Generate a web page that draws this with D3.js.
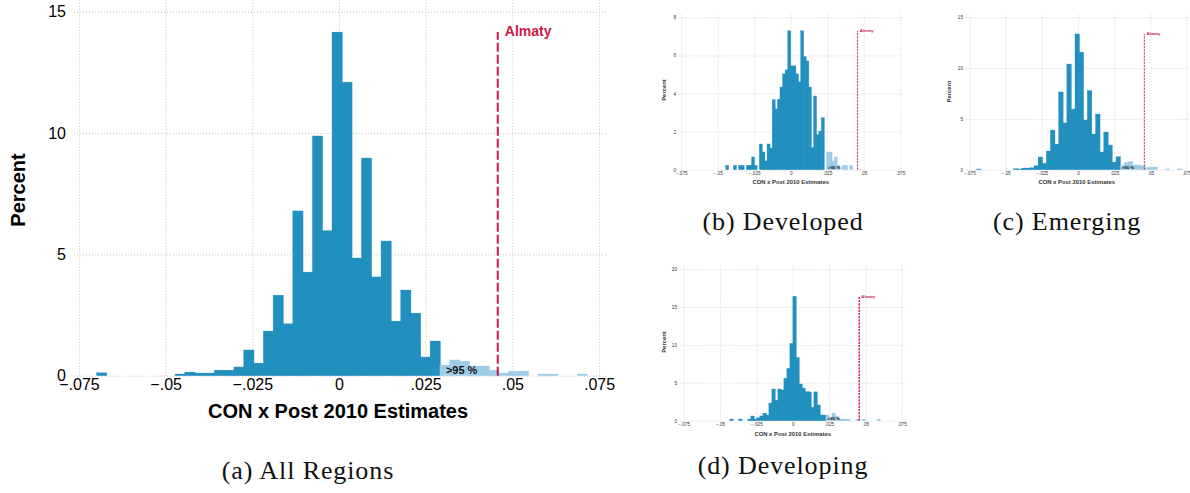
<!DOCTYPE html>
<html>
<head>
<meta charset="utf-8">
<script src="https://cdn.jsdelivr.net/npm/d3@7"></script>
<style>
  body { margin: 0; background: #fff; }
  svg { display: block; }
  text { font-family: "Liberation Sans", Arial, Helvetica, sans-serif; }
  .cap { font-family: "Liberation Serif", "Times New Roman", serif; }
</style>
</head>
<body>
<svg id="fig" width="1190" height="493"></svg>
<script>
// shared axis values
const xTicks = [-0.075, -0.05, -0.025, 0, 0.025, 0.05, 0.075]
const xTickLabels = ['\u2212.075', '\u2212.05', '\u2212.025', '0', '.025', '.05', '.075']
const almatyEstimate = 0.0458
const xTitle = 'CON x Post 2010 Estimates'
const yTitle = 'Percent'

// (a) all regions: bins start at -0.0699, width 0.00283
const allBins = { start: -0.0699, width: 0.00283, p95: 0.0291 }
const allPct = [0.12, 0, 0, 0, 0, 0, 0, 0, 0.07, 0.15,
  0.11, 0.11, 0.23, 0.23, 0.36, 1.06, 0.52, 1.84, 3.32, 2.14,
  6.79, 4.27, 9.88, 5.98, 14.16, 12.10, 4.85, 8.97, 4.07, 5.55,
  2.25, 3.53, 2.58, 0.77, 1.43, 0.44, 0.65, 0.60, 0.40, 0.40,
  0.23, 0.11, 0.19, 0.19, 0, 0.07, 0.07, 0, 0, 0.07]
const allYTicks = [0, 5, 10, 15]

// (b) developed
const devBins = { start: -0.04443, width: 0.00177, p95: 0.0246 }
const devPct = [0.23, 0, 0, 0.23, 0, 0.23, 0.23, 0, 0.23, 0.23,
  0.67, 0.23, 0, 1.35, 0.93, 0.46, 1.35, 1.14, 3.68, 3.19,
  3.70, 4.34, 5.03, 5.24, 7.29, 5.45, 5.45, 5.03, 4.61, 7.29,
  5.94, 5.71, 4.34, 1.16, 3.87, 1.84, 2.03, 2.73, 0, 0.93,
  0.93, 0.46, 0.67, 0.23, 0, 0.23, 0.23, 0, 0.23]
const devYTicks = [0, 2, 4, 6, 8]

// (c) emerging
const emgBins = { start: -0.0699, width: 0.00283, p95: 0.0291 }
const emgPct = [0.07, 0, 0, 0, 0, 0, 0, 0, 0, 0.10,
  0.07, 0.16, 0.16, 0.20, 0.40, 1.25, 0.64, 1.84, 3.90, 2.52,
  7.65, 4.60, 10.40, 5.97, 13.36, 11.58, 4.89, 7.78, 3.51, 5.48,
  1.74, 3.71, 2.43, 0.75, 1.28, 0.46, 0.69, 0.79, 0.46, 0.46,
  0.39, 0.20, 0.26, 0.26, 0, 0, 0.08, 0, 0, 0.08]
const emgYTicks = [0, 5, 10, 15]

// (d) developing
const dvgBins = { start: -0.04315, width: 0.002065, p95: 0.0229 }
const dvgPct = [0.22, 0, 0, 0.22, 0, 0, 0.22, 0.62, 0.22, 0.40,
  0.62, 1.00, 0.75, 2.33, 4.18, 2.70, 4.18, 4.05, 5.60, 6.90,
  10.2, 16.4, 8.35, 4.84, 4.30, 3.85, 3.80, 1.78, 3.80, 2.07,
  0.75, 0.75, 0.75, 0.22, 1.00, 0.62, 0.22, 0.22, 0.22, 0.22,
  0, 0, 0.22, 0, 0.22, 0, 0, 0, 0, 0.22]
const dvgYTicks = [0, 5, 10, 15, 20]

const captions = ['(a) All Regions', '(b) Developed', '(c) Emerging', '(d) Developing']

const dark = '#2290bf'
const light = '#9fcce6'
const red = '#cc1a4a'

const svg = d3.select('#fig')

function hist (o) {
  const x = d3.scaleLinear().domain([-0.075, 0.075]).range(o.xr)
  const y = d3.scaleLinear().domain([0, d3.max(o.yTicks)]).range(o.yr)
  const g = svg.append('g')

  // grid lines
  const gh = g.append('g').attr('transform', `translate(${o.gx[0]},0)`)
    .call(d3.axisLeft(y).tickValues(o.yTicks).tickSize(-(o.gx[1] - o.gx[0])).tickFormat(''))
  const gv = g.append('g').attr('transform', `translate(0,${o.yr[0]})`)
    .call(d3.axisBottom(x).tickValues(xTicks).tickSize(-(o.yr[0] - o.gTop)).tickFormat(''))
  ;[gh, gv].forEach(a => {
    a.select('.domain').remove()
    a.selectAll('line').attr('stroke', o.gridColor).attr('stroke-width', o.gridWidth)
      .attr('stroke-dasharray', o.gridDash)
  })

  // bars, slightly overlapped so no seams show between neighbours
  const bins = o.pct.map((p, i) => ({ x0: o.bins.start + i * o.bins.width, x1: o.bins.start + (i + 1) * o.bins.width, p }))
    .filter(d => d.p > 0)
  g.append('g').selectAll('rect').data(bins).join('rect')
    .attr('x', d => x(d.x0) - 0.15)
    .attr('width', d => x(d.x1) - x(d.x0) + 0.5)
    .attr('y', d => y(d.p))
    .attr('height', d => y(0) - y(d.p))
    .attr('fill', d => d.x0 >= o.bins.p95 - 1e-6 ? light : dark)
    .attr('stroke', d => d.x0 >= o.bins.p95 - 1e-6 ? light : dark)
    .attr('stroke-width', 0.3)

  // >95 % label
  g.append('text').attr('x', x(o.bins.p95) + o.pctDx).attr('y', y(0) - o.pctUp)
    .attr('font-size', o.pctSize).attr('font-weight', 'bold').attr('fill', '#111')
    .text('>95 %')

  // Almaty line
  const top = d3.max(o.pct)
  g.append('line').attr('x1', x(almatyEstimate)).attr('x2', x(almatyEstimate))
    .attr('y1', y(0)).attr('y2', y(top))
    .attr('stroke', red).attr('stroke-width', o.redWidth).attr('stroke-dasharray', o.redDash)
  g.append('text').attr('x', x(almatyEstimate) + 0.5 * o.almSize).attr('y', y(top) + 0.3 * o.almSize)
    .attr('font-size', o.almSize).attr('font-weight', 'bold').attr('fill', red)
    .text('Almaty')

  // tick labels
  const ax = g.append('g').attr('transform', `translate(0,${o.yr[0]})`)
    .call(d3.axisBottom(x).tickValues(xTicks).tickSize(0).tickPadding(o.xPad)
      .tickFormat((d, i) => xTickLabels[i]))
  const ay = g.append('g').attr('transform', `translate(${o.gx[0]},0)`)
    .call(d3.axisLeft(y).tickValues(o.yTicks).tickSize(0).tickPadding(o.yPad))
  ;[ax, ay].forEach(a => {
    a.select('.domain').remove()
    a.attr('font-family', null).attr('font-size', null)
    a.selectAll('text').attr('font-size', o.tickSize).attr('fill', o.textColor)
  })

  // titles
  g.append('text').attr('x', o.xTitle[0]).attr('y', o.xTitle[1]).attr('text-anchor', 'middle')
    .attr('font-size', o.titleSize).attr('font-weight', 'bold').attr('fill', o.textColor).text(xTitle)
  g.append('text').attr('transform', `translate(${o.yTitle[0]},${o.yTitle[1]}) rotate(-90)`)
    .attr('text-anchor', 'middle').attr('dy', '0.35em')
    .attr('font-size', o.titleSize).attr('font-weight', 'bold').attr('fill', o.textColor).text(yTitle)
}

const small = {
  tickSize: 4.7, titleSize: 5.9, almSize: 4.2, pctSize: 4.4, pctDx: 1.5, pctUp: 0.7,
  gridColor: '#dedede', gridWidth: 0.8, gridDash: '1.6,1.2',
  redWidth: 0.9, redDash: '2.2,1', xPad: 1.8, yPad: 3, textColor: '#333'
}

hist({
  pct: allPct, bins: allBins, yTicks: allYTicks,
  xr: [79, 599], yr: [375.7, 11.7], gx: [74, 607], gTop: 0,
  tickSize: 16, titleSize: 20, almSize: 14, pctSize: 11, pctDx: 6, pctUp: 2.2,
  gridColor: '#c4c4c4', gridWidth: 1, gridDash: '1,2',
  redWidth: 2, redDash: '9,3', xPad: 2.5, yPad: 8, textColor: '#000',
  xTitle: [338, 418], yTitle: [18, 190]
})
hist(Object.assign({}, small, {
  pct: devPct, bins: devBins, yTicks: devYTicks,
  xr: [681.2, 900.2], yr: [169.7, 17.3], gx: [679, 903], gTop: 13,
  xTitle: [790.7, 184.3], yTitle: [664, 90]
}))
hist(Object.assign({}, small, {
  pct: emgPct, bins: emgBins, yTicks: emgYTicks,
  xr: [969.4, 1186.6], yr: [169.7, 17.3], gx: [966, 1192], gTop: 13,
  xTitle: [1076.7, 184.3], yTitle: [949.3, 91.7]
}))
hist(Object.assign({}, small, {
  pct: dvgPct, bins: dvgBins, yTicks: dvgYTicks,
  xr: [683.7, 901.7], yr: [420.7, 269], gx: [680, 905], gTop: 264,
  redWidth: 1.4,
  xTitle: [792.7, 436], yTitle: [664, 342]
}))

// sub-figure captions
const capPos = [[308, 479], [783, 230], [1067, 230], [783, 474]]
svg.append('g').selectAll('text').data(captions).join('text')
  .attr('class', 'cap')
  .attr('x', (d, i) => capPos[i][0]).attr('y', (d, i) => capPos[i][1])
  .attr('text-anchor', 'middle').attr('font-size', 26).attr('letter-spacing', 0.9)
  .attr('fill', '#111')
  .text(d => d)
</script>
</body>
</html>
